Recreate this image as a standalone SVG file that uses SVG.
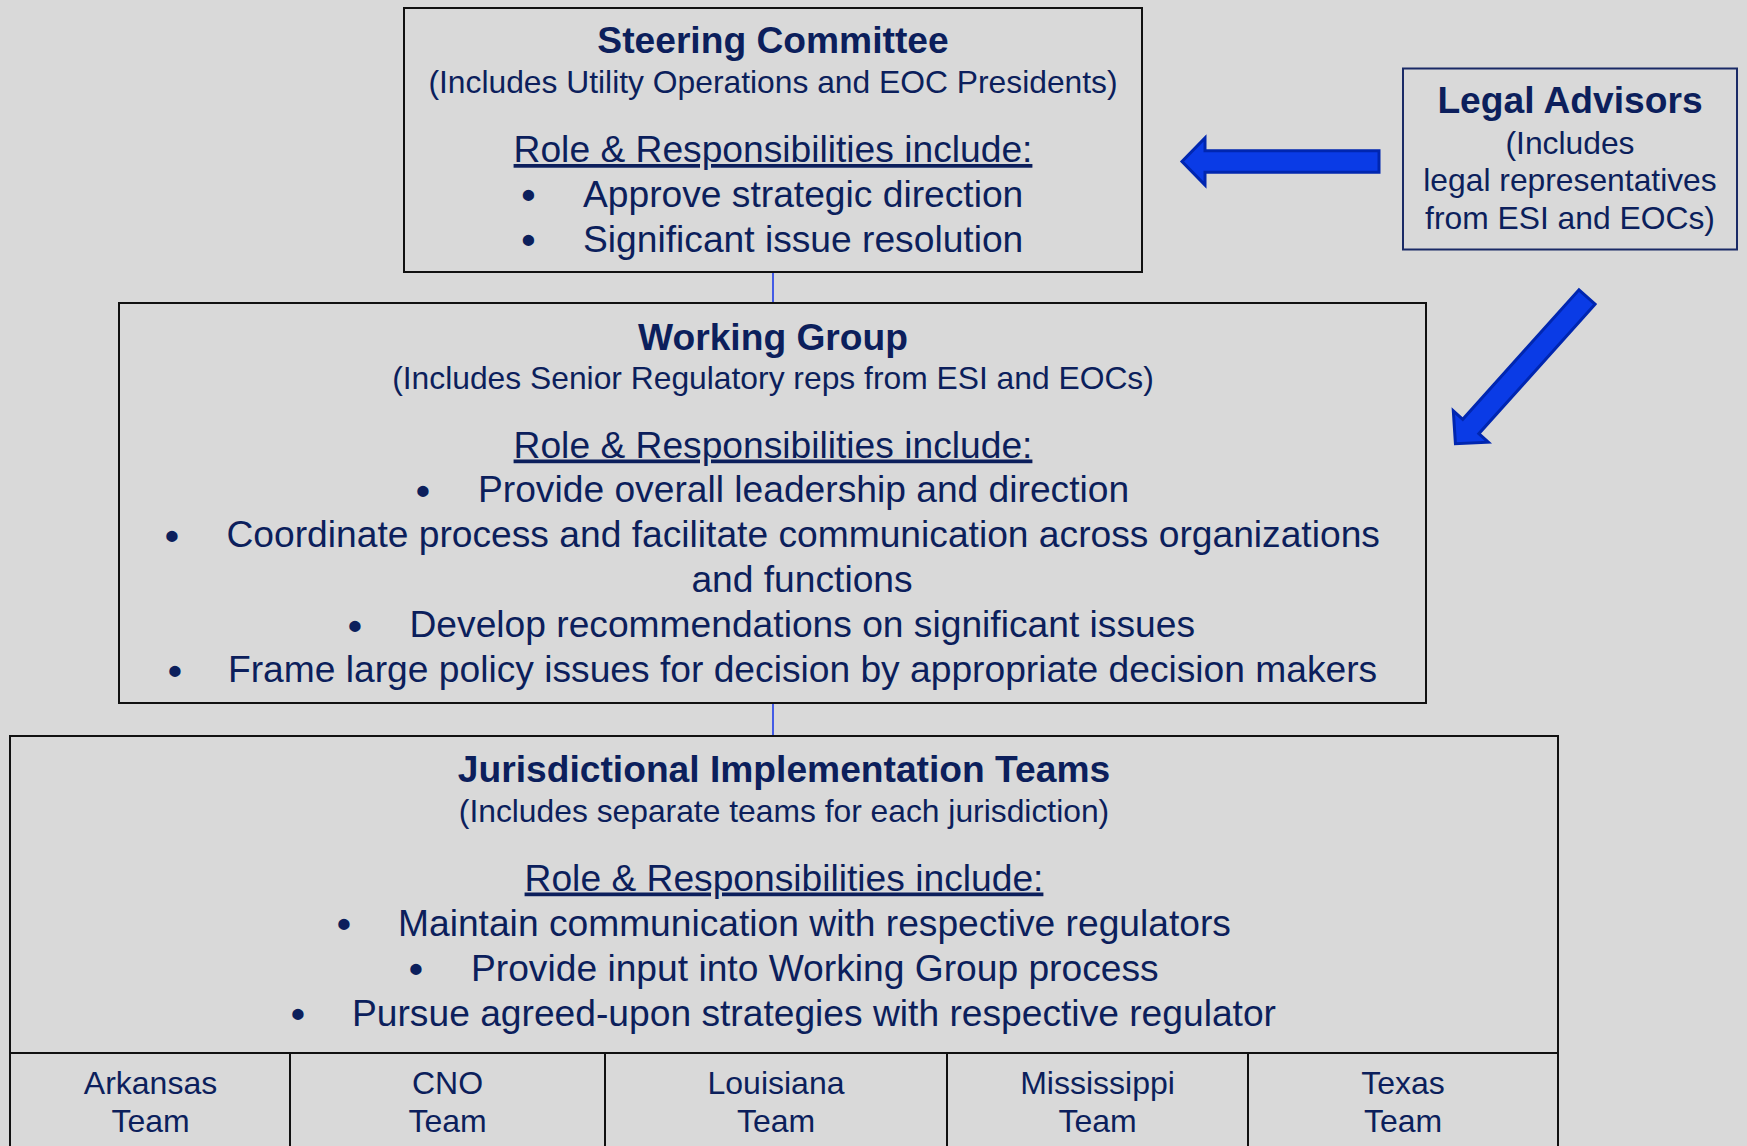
<svg xmlns="http://www.w3.org/2000/svg" width="1747" height="1146" viewBox="0 0 1747 1146">
  <defs>
    <style>
      text { font-family: "Liberation Sans", Arial, sans-serif; fill: #0c1f5c; }
      .title { font-size: 37.2px; font-weight: bold; text-anchor: middle; }
      .sub { font-size: 31.8px; text-anchor: middle; }
      .role { font-size: 37.2px; text-anchor: middle; text-decoration: underline; }
      .item { font-size: 37.2px; }
      .dot { font-size: 39.5px; font-weight: bold; text-anchor: middle; }
      .team { font-size: 32px; text-anchor: middle; }
      .box { fill: #d9d9d9; stroke: #111111; stroke-width: 2; }
      .legal { fill: #d9d9d9; stroke: #1a2a66; stroke-width: 2; }
      .link { stroke: #1030e8; stroke-width: 1.5; fill: none; }
      .cell { stroke: #111111; stroke-width: 2; }
      .bigarrow { fill: #0a3be6; stroke: #0026b0; stroke-width: 3; stroke-linejoin: miter; }
    </style>
    <path id="blockArrow" d="M0,-10.8 L174,-10.8 L174,-23.5 L197,0 L174,23.5 L174,10.8 L0,10.8 Z"/>
  </defs>
  <rect x="0" y="0" width="1747" height="1146" fill="#d9d9d9"/>

  <g id="connectors">
    <line class="link" x1="773" y1="272" x2="773" y2="303"/>
    <line class="link" x1="773" y1="703" x2="773" y2="736"/>
    <use href="#blockArrow" class="bigarrow" transform="translate(1379,161.5) rotate(180)"/>
    <use href="#blockArrow" class="bigarrow" transform="translate(1587,297) rotate(131.9)"/>
  </g>

  <g id="steering-committee">
    <rect class="box" x="404" y="8" width="738" height="264"/>
    <text class="title" x="773" y="53">Steering Committee</text>
    <text class="sub" x="773" y="92.5">(Includes Utility Operations and EOC Presidents)</text>
    <text class="role" x="773" y="162">Role &amp; Responsibilities include:</text>
    <text class="dot" x="528.5" y="208">•</text>
    <text class="item" x="583" y="206.5">Approve strategic direction</text>
    <text class="dot" x="528.5" y="253">•</text>
    <text class="item" x="583" y="251.5">Significant issue resolution</text>
  </g>

  <g id="legal-advisors">
    <rect class="legal" x="1403" y="68.5" width="334" height="181"/>
    <text class="title" x="1570" y="113">Legal Advisors</text>
    <text class="sub" x="1570" y="154">(Includes</text>
    <text class="sub" x="1570" y="191">legal representatives</text>
    <text class="sub" x="1570" y="228.5">from ESI and EOCs)</text>
  </g>

  <g id="working-group">
    <rect class="box" x="119" y="303" width="1307" height="400"/>
    <text class="title" x="773" y="349.5">Working Group</text>
    <text class="sub" x="773" y="389">(Includes Senior Regulatory reps from ESI and EOCs)</text>
    <text class="role" x="773" y="457.5">Role &amp; Responsibilities include:</text>
    <text class="dot" x="423" y="503.5">•</text>
    <text class="item" x="478" y="502">Provide overall leadership and direction</text>
    <text class="dot" x="172" y="548.5">•</text>
    <text class="item" x="226.5" y="547">Coordinate process and facilitate communication across organizations</text>
    <text class="item" x="802" y="592" text-anchor="middle">and functions</text>
    <text class="dot" x="355" y="638.5">•</text>
    <text class="item" x="409.5" y="637">Develop recommendations on significant issues</text>
    <text class="dot" x="175" y="683.5">•</text>
    <text class="item" x="228" y="682">Frame large policy issues for decision by appropriate decision makers</text>
  </g>

  <g id="jurisdictional-teams">
    <rect class="box" x="10" y="736" width="1548" height="420"/>
    <text class="title" x="784" y="782">Jurisdictional Implementation Teams</text>
    <text class="sub" x="784" y="822">(Includes separate teams for each jurisdiction)</text>
    <text class="role" x="784" y="890.5">Role &amp; Responsibilities include:</text>
    <text class="dot" x="344" y="937">•</text>
    <text class="item" x="398" y="935.5">Maintain communication with respective regulators</text>
    <text class="dot" x="416" y="982">•</text>
    <text class="item" x="471" y="980.5">Provide input into Working Group process</text>
    <text class="dot" x="298" y="1027">•</text>
    <text class="item" x="352" y="1025.5">Pursue agreed-upon strategies with respective regulator</text>
    <line class="cell" x1="10" y1="1053" x2="1558" y2="1053" stroke-width="3"/>
  </g>

  <g id="team-arkansas">
    <text class="team" x="150.5" y="1094">Arkansas</text>
    <text class="team" x="150.5" y="1132">Team</text>
  </g>
  <g id="team-cno">
    <line class="cell" x1="290" y1="1053" x2="290" y2="1150"/>
    <text class="team" x="447.5" y="1094">CNO</text>
    <text class="team" x="447.5" y="1132">Team</text>
  </g>
  <g id="team-louisiana">
    <line class="cell" x1="605" y1="1053" x2="605" y2="1150"/>
    <text class="team" x="776" y="1094">Louisiana</text>
    <text class="team" x="776" y="1132">Team</text>
  </g>
  <g id="team-mississippi">
    <line class="cell" x1="947" y1="1053" x2="947" y2="1150"/>
    <text class="team" x="1097.5" y="1094">Mississippi</text>
    <text class="team" x="1097.5" y="1132">Team</text>
  </g>
  <g id="team-texas">
    <line class="cell" x1="1248" y1="1053" x2="1248" y2="1150"/>
    <text class="team" x="1403" y="1094">Texas</text>
    <text class="team" x="1403" y="1132">Team</text>
  </g>
</svg>
